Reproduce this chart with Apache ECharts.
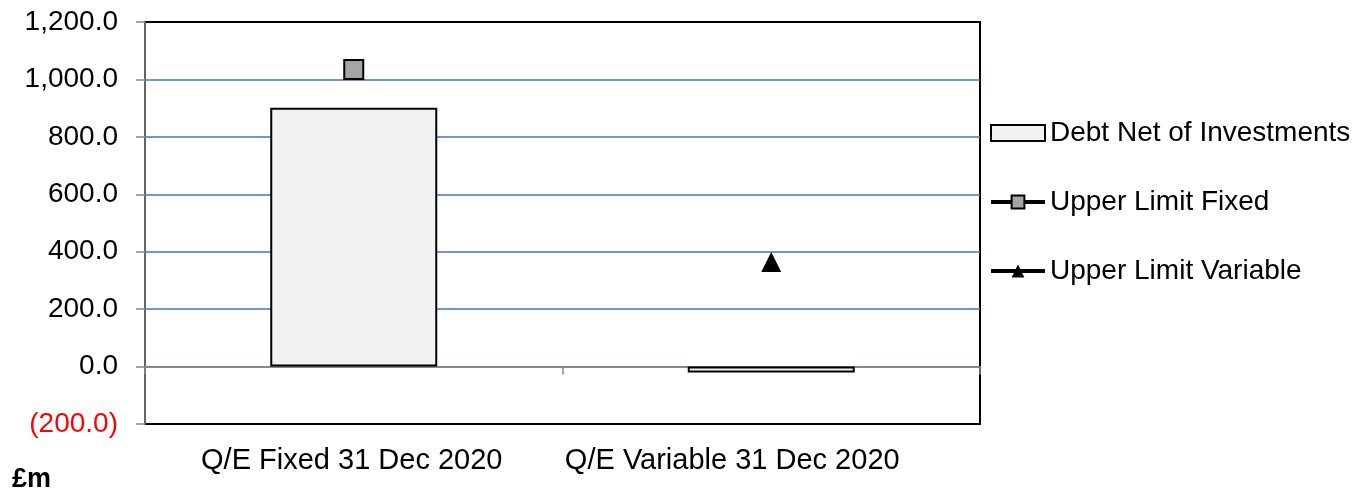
<!DOCTYPE html>
<html>
<head>
<meta charset="utf-8">
<script src="https://cdn.jsdelivr.net/npm/echarts@6/dist/echarts.min.js"></script>
<style>
  html, body { margin: 0; padding: 0; background: #fff; }
  #chart { width: 1365px; height: 490px; }
</style>
</head>
<body>
<div id="chart"></div>
<script>
// Quarter-end debt position against the treasury upper limits (£m)
const categories = ['Q/E Fixed 31 Dec 2020', 'Q/E Variable 31 Dec 2020'];
const debtNetOfInvestments = [901, -21];
const upperLimitFixed = [1035, null];
const upperLimitVariable = [null, 364];
const seriesNames = ['Debt Net of Investments', 'Upper Limit Fixed', 'Upper Limit Variable'];
const unitLabel = '£m';

const FONT = '"Liberation Sans", Arial, sans-serif';
const AXIS_GREY = '#868686';
const GRID_BLUE = '#4472C4';

// the second category caption sits slightly left of its band centre
const labelPadding = [[0, 4, 0, 0], [0, 78, 0, 0]];
const labelledCategories = categories.map(function (name, i) {
  return { value: name, textStyle: { padding: labelPadding[i] } };
});

function formatValue(v) {
  const s = Math.abs(v).toLocaleString('en-GB', { minimumFractionDigits: 1, maximumFractionDigits: 1 });
  return v < 0 ? '(' + s + ')' : s;
}

const chart = echarts.init(document.getElementById('chart'), null, { renderer: 'canvas' });

chart.setOption({
  animation: false,
  backgroundColor: '#fff',
  textStyle: { fontFamily: FONT },
  grid: {
    left: 145, right: 385, top: 22, bottom: 66,
    outerBoundsMode: 'none',
    show: true, borderColor: '#000', borderWidth: 2, backgroundColor: 'transparent'
  },
  graphic: [{
    type: 'text', left: 12, top: 466,
    style: { text: unitLabel, font: 'bold 27px ' + FONT, fill: '#000' }
  }],
  legend: {
    orient: 'vertical', left: 989, top: 119, padding: 0,
    itemWidth: 54, itemHeight: 16, itemGap: 41,
    data: [
      { name: seriesNames[0], icon: 'rect' },
      { name: seriesNames[1], lineStyle: { width: 4, color: '#000' } },
      { name: seriesNames[2], lineStyle: { width: 4, color: '#000' } }
    ],
    textStyle: { fontSize: 28, lineHeight: 28, color: '#000', fontFamily: FONT }
  },
  xAxis: [
    {
      // category labels along the bottom edge of the plot
      type: 'category',
      data: labelledCategories,
      position: 'bottom',
      axisLine: { show: false, onZero: false },
      axisTick: { show: false },
      axisLabel: { show: true, interval: 0, margin: 22, fontSize: 29, color: '#000', fontFamily: FONT },
      splitLine: { show: false }
    },
    {
      // zero line with category dividers
      type: 'category',
      data: categories,
      position: 'bottom',
      z: 1,
      axisLine: { show: true, onZero: true, lineStyle: { color: AXIS_GREY, width: 1.5 } },
      axisTick: { show: true, length: 8, lineStyle: { color: AXIS_GREY, width: 1.5 } },
      axisLabel: { show: false },
      splitLine: { show: false }
    }
  ],
  yAxis: {
    type: 'value',
    min: -200, max: 1200, interval: 200,
    z: 1,
    axisLine: { show: true, lineStyle: { color: AXIS_GREY, width: 1.5 } },
    axisTick: { show: true, length: 9, lineStyle: { color: AXIS_GREY, width: 1.5 } },
    axisLabel: {
      margin: 27, fontSize: 28, fontFamily: FONT,
      formatter: formatValue,
      color: function (v) { return Number(v) < 0 ? '#ff0000' : '#000'; }
    },
    splitLine: {
      show: true,
      lineStyle: {
        width: 1.5,
        color: ['transparent', GRID_BLUE, GRID_BLUE, GRID_BLUE, GRID_BLUE, GRID_BLUE, GRID_BLUE, 'transparent']
      }
    }
  },
  series: [
    {
      name: seriesNames[0],
      type: 'bar',
      data: debtNetOfInvestments,
      barWidth: '40%',
      itemStyle: { color: '#f2f2f2', borderColor: '#000', borderWidth: 2 },
      z: 2
    },
    {
      name: seriesNames[1],
      type: 'line',
      data: upperLimitFixed,
      symbol: 'rect',
      symbolSize: 19,
      showSymbol: true,
      lineStyle: { color: '#000', width: 3 },
      itemStyle: { color: '#a5a5a5', borderColor: '#000', borderWidth: 2 },
      z: 3
    },
    {
      name: seriesNames[2],
      type: 'line',
      data: upperLimitVariable,
      symbol: 'triangle',
      symbolSize: 20,
      showSymbol: true,
      lineStyle: { color: '#000', width: 3 },
      itemStyle: { color: '#000', borderColor: '#000', borderWidth: 0 },
      z: 3
    }
  ]
});
</script>
</body>
</html>
